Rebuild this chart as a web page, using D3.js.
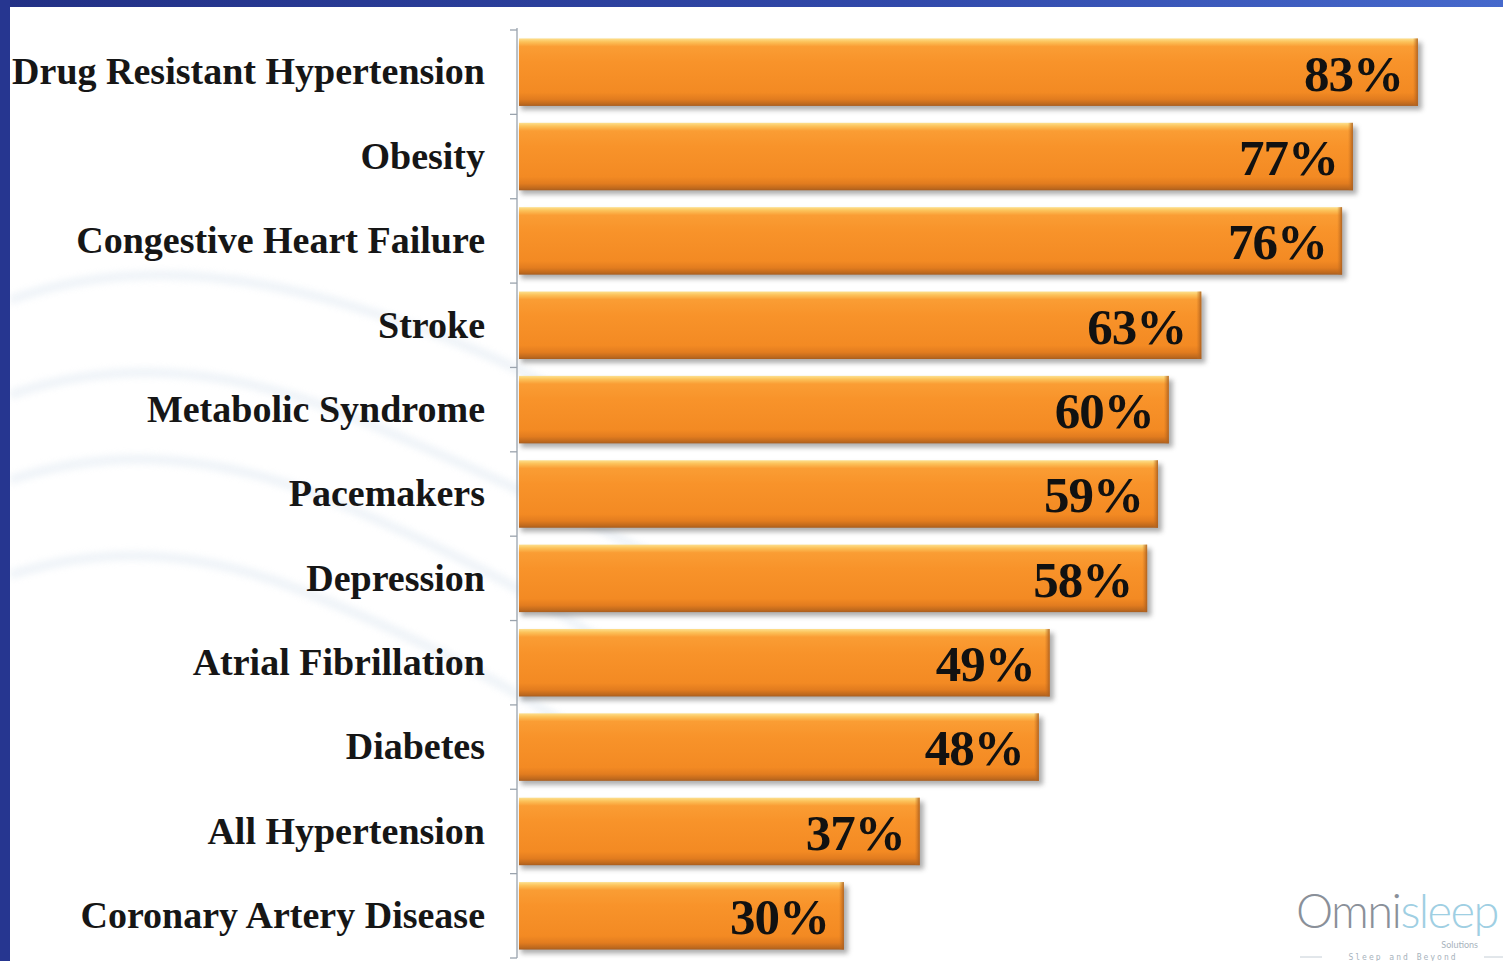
<!DOCTYPE html>
<html>
<head>
<meta charset="utf-8">
<script src="https://cdn.jsdelivr.net/npm/d3@7"></script>
<style>
  html, body { margin: 0; padding: 0; background: #ffffff; overflow: hidden; }
  svg { display: block; }
</style>
</head>
<body>
<svg id="chart" width="1503" height="961"></svg>
<script>
// Prevalence of sleep apnea by condition (percent)
const categories = [
  "Drug Resistant Hypertension",
  "Obesity",
  "Congestive Heart Failure",
  "Stroke",
  "Metabolic Syndrome",
  "Pacemakers",
  "Depression",
  "Atrial Fibrillation",
  "Diabetes",
  "All Hypertension",
  "Coronary Artery Disease"
];
const values = [83, 77, 76, 63, 60, 59, 58, 49, 48, 37, 30];
const valueLabels = values.map(v => v + "%");

const W = 1503, H = 961;
const svg = d3.select("#chart");
const defs = svg.append("defs");

// Slide background: white with a navy frame along top and left
const frameGrad = defs.append("linearGradient").attr("id", "frameGrad")
  .attr("x1", "0").attr("x2", "1").attr("y1", "0").attr("y2", "0");
frameGrad.append("stop").attr("offset", "0%").attr("stop-color", "#223085");
frameGrad.append("stop").attr("offset", "60%").attr("stop-color", "#3149aa");
frameGrad.append("stop").attr("offset", "100%").attr("stop-color", "#4669cc");

svg.append("rect").attr("width", W).attr("height", H).attr("fill", "#ffffff");

// faint decorative swirls behind the labels
const swirl = svg.append("g").attr("fill", "none").attr("stroke", "#eaf0f6")
  .attr("stroke-width", 10).attr("opacity", 0.7).style("filter", "blur(3px)");
[
  "M10,300 Q150,250 330,300 T620,430",
  "M10,395 Q170,340 360,420 T660,560",
  "M10,480 Q160,430 330,500 T600,640",
  "M10,575 Q150,530 300,590 T560,720"
].forEach(d => swirl.append("path").attr("d", d));

svg.append("rect").attr("x", 0).attr("y", 0).attr("width", W).attr("height", 7).attr("fill", "url(#frameGrad)");
svg.append("rect").attr("x", 0).attr("y", 0).attr("width", 10).attr("height", H).attr("fill", "#263690");

// Scales
const x = d3.scaleLinear().domain([0, 100]).range([519, 1602]);
const y = d3.scaleBand().domain(categories).range([30, 958])
  .paddingInner(0.2).paddingOuter(0.1);

// Bar shading
const barGrad = defs.append("linearGradient").attr("id", "barGrad")
  .attr("x1", "0").attr("x2", "0").attr("y1", "0").attr("y2", "1");
[
  ["0%", "#fde08e"], ["5%", "#fcc25a"], ["12%", "#fa9d34"], ["35%", "#f8932a"],
  ["80%", "#f38a23"], ["90%", "#e27c1f"], ["97%", "#bf691d"], ["100%", "#a85d1f"]
].forEach(([o, c]) => barGrad.append("stop").attr("offset", o).attr("stop-color", c));

const edgeGrad = defs.append("linearGradient").attr("id", "edgeGrad")
  .attr("x1", "0").attr("x2", "1").attr("y1", "0").attr("y2", "0");
edgeGrad.append("stop").attr("offset", "0%").attr("stop-color", "#c9701f").attr("stop-opacity", 0);
edgeGrad.append("stop").attr("offset", "100%").attr("stop-color", "#a85d1f").attr("stop-opacity", 0.9);

const shadow = defs.append("filter").attr("id", "shadow")
  .attr("x", "-5%").attr("y", "-20%").attr("width", "110%").attr("height", "150%");
shadow.append("feGaussianBlur").attr("stdDeviation", 2.5);

// Category axis: vertical rule with ticks between the bands
const axisG = svg.append("g").attr("transform", "translate(517,0)");
const tickPos = d3.range(categories.length + 1).map(i => y.range()[0] + i * y.step());
axisG.append("line").attr("x1", 0).attr("x2", 0).attr("y1", 28).attr("y2", 958)
  .attr("stroke", "#9aa3ad").attr("stroke-width", 1.3);
axisG.selectAll("line.tk").data(tickPos)
  .join("line").attr("class", "tk")
  .attr("x1", -7).attr("x2", 0).attr("y1", d => d).attr("y2", d => d)
  .attr("stroke", "#9aa3ad").attr("stroke-width", 1.3);

// Bars
const bars = svg.append("g");
const data = categories.map((c, i) => ({ c, v: values[i], label: valueLabels[i] }));

bars.selectAll("rect.sh").data(data).join("rect").attr("class", "sh")
  .attr("x", x(0) + 2).attr("y", d => y(d.c) + 4)
  .attr("width", d => x(d.v) - x(0) + 2).attr("height", y.bandwidth())
  .attr("fill", "#6b6b6b").attr("opacity", 0.55).attr("filter", "url(#shadow)");

bars.selectAll("rect.bar").data(data).join("rect").attr("class", "bar")
  .attr("x", x(0)).attr("y", d => y(d.c))
  .attr("width", d => x(d.v) - x(0)).attr("height", y.bandwidth())
  .attr("fill", "url(#barGrad)");

bars.selectAll("rect.edge").data(data).join("rect").attr("class", "edge")
  .attr("x", d => x(d.v) - 5).attr("y", d => y(d.c))
  .attr("width", 5).attr("height", y.bandwidth())
  .attr("fill", "url(#edgeGrad)");

// Value labels inside the bar ends
bars.selectAll("text.val").data(data).join("text").attr("class", "val")
  .attr("x", d => x(d.v) - 15)
  .attr("y", d => y(d.c) + y.bandwidth() / 2)
  .attr("dy", "0.36em")
  .attr("text-anchor", "end")
  .attr("font-family", "'Liberation Serif', 'Times New Roman', serif")
  .attr("font-weight", "bold")
  .attr("font-size", 51)
  .attr("letter-spacing", -1)
  .attr("fill", "#111111")
  .text(d => d.label);

// Category labels
svg.append("g").selectAll("text").data(categories).join("text")
  .attr("x", 485)
  .attr("y", c => y(c) + y.bandwidth() / 2 - 1)
  .attr("dy", "0.35em")
  .attr("text-anchor", "end")
  .attr("font-family", "'Liberation Serif', 'Times New Roman', serif")
  .attr("font-weight", "bold")
  .attr("font-size", 38)
  .attr("fill", "#161616")
  .text(c => c);

// Brand mark in the lower right corner
const logo = svg.append("g");
const brand = logo.append("text").attr("x", 1296).attr("y", 928)
  .attr("font-family", "Lato, 'Open Sans', sans-serif").attr("font-weight", 300)
  .attr("font-size", 47).attr("letter-spacing", -1.6);
brand.append("tspan").attr("fill", "#8a9099").text("Omni");
brand.append("tspan").attr("fill", "#9fcfe3").text("sleep");
logo.append("text").attr("x", 1478).attr("y", 948).attr("text-anchor", "end")
  .attr("font-family", "Lato, sans-serif").attr("font-size", 9).attr("fill", "#a8b3bd").text("Solutions");
logo.append("text").attr("x", 1403).attr("y", 960).attr("text-anchor", "middle")
  .attr("font-family", "'DejaVu Sans Mono', monospace").attr("font-size", 8).attr("letter-spacing", 2)
  .attr("fill", "#a8b3bd").text("Sleep and Beyond");
logo.append("line").attr("x1", 1300).attr("x2", 1322).attr("y1", 957).attr("y2", 957).attr("stroke", "#c5ced6");
logo.append("line").attr("x1", 1484).attr("x2", 1503).attr("y1", 957).attr("y2", 957).attr("stroke", "#c5ced6");
</script>
</body>
</html>
